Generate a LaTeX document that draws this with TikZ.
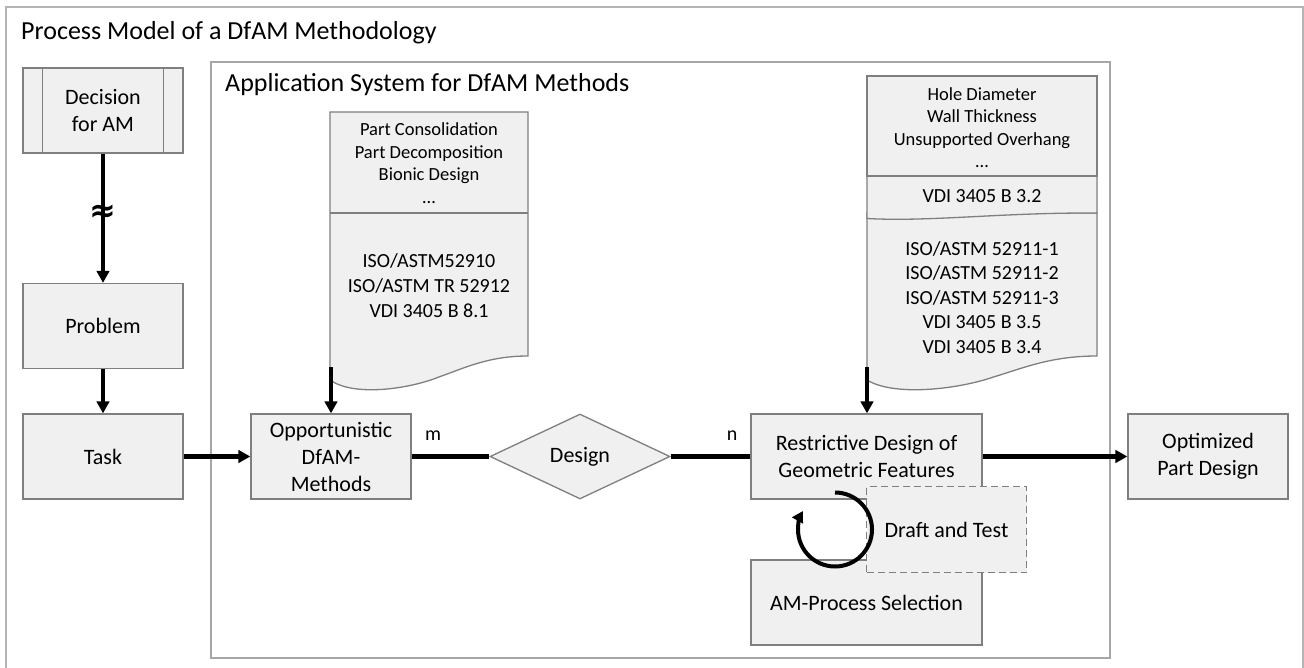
\documentclass[tikz,border=0pt]{standalone}
\usepackage{fontspec}
\setmainfont{Carlito}
\newfontfamily\symfont{DejaVu Sans}
\usetikzlibrary{shapes.geometric,arrows.meta}
\definecolor{boxfill}{HTML}{F0F0F0}
\definecolor{boxline}{HTML}{7F7F7F}
\definecolor{frameline}{HTML}{B4B4B4}
\definecolor{innerline}{HTML}{A6A6A6}
\begin{document}
\begin{tikzpicture}[x=1pt,y=-1pt,
  box/.style={draw=boxline,fill=boxfill,line width=1.3pt,minimum width=160pt,minimum height=85pt,inner sep=0pt,align=center,font=\fontsize{22}{27}\selectfont},
  docshape/.style={draw=boxline,fill=boxfill,line width=1.3pt},
  doctext/.style={align=center,inner sep=0pt,font=\fontsize{18.5}{22.5}\selectfont},
  stdtext/.style={align=center,inner sep=0pt,font=\fontsize{20}{25}\selectfont},
  conn/.style={line width=4.7pt},
  arr/.style={line width=4.7pt,-{Triangle[length=12pt,width=12.5pt]}},
  lbl/.style={inner sep=0pt,font=\fontsize{20}{24}\selectfont},
  ttl/.style={anchor=west,inner sep=0pt,font=\fontsize{26}{30}\selectfont}]
\useasboundingbox (0,0) rectangle (1304,668);
% frames
\draw[frameline,line width=1.5pt] (6,668) -- (6,7) -- (1303,7) -- (1303,668);
\draw[innerline,line width=1.3pt] (211,62) rectangle (1110,658);
\node[ttl] (title) at (21,33) {Process Model of a DfAM Methodology};
\node[ttl] (subtitle) at (225,85) {Application System for DfAM Methods};
% left column
\node[box] (dec) at (103,110.5) {Decision\\for AM};
\draw[boxline,line width=1.3pt] ([xshift=20pt]dec.north west) -- ([xshift=20pt]dec.south west)
  ([xshift=-20pt]dec.north east) -- ([xshift=-20pt]dec.south east);
\node[inner sep=0pt,minimum height=30pt,font=\symfont\bfseries\fontsize{32}{32}\selectfont] (apx) at (103,213) {≈};
\node[box] (prob) at (103,326) {Problem};
\node[box] (task) at (103,456.5) {Task};
\draw[conn] (dec.south) -- ([yshift=-15pt]apx.center);
\draw[arr] ([yshift=15pt]apx.center) -- (prob.north);
\draw[arr] (prob) -- (task);
% left document
\path[docshape] (330,112) -- (528,112) -- (528,356) .. controls (488.4,356) and (464.6,368) .. (438.9,377)
  .. controls (409.2,389) and (353.8,397) .. (330,380) -- cycle;
\draw[boxline,line width=1.3pt] (330,213) -- (528,213);
\node[doctext] (docAtop) at (429,163) {Part Consolidation\\Part Decomposition\\Bionic Design\\…};
\node[stdtext] (docAbot) at (429,286) {ISO/ASTM52910\\ISO/ASTM TR 52912\\VDI 3405 B 8.1};
% middle row
\node[box] (opp) at (331,456.5) {Opportunistic\\DfAM-\\Methods};
\draw[arr] (task) -- (opp);
\coordinate (docAout) at (331,367);
\draw[arr] (docAout) -- (docAout |- opp.north);
\node[diamond,draw=boxline,fill=boxfill,line width=1.3pt,minimum width=180pt,minimum height=85pt,inner sep=0pt,font=\fontsize{22}{27}\selectfont] (des) at (580,456.5) {Design};
\node[box,minimum width=231pt] (res) at (866.5,456.5) {Restrictive Design of\\Geometric Features};
\draw[conn] (opp) -- (des);
\draw[conn] (des) -- (res);
\node[lbl] (mlab) at (433,436) {m};
\node[lbl] (nlab) at (732,436) {n};
% right document
\path[docshape] (867,213) -- (1097,213) -- (1097,356) .. controls (1051,356) and (1023.4,368) .. (993.5,377)
  .. controls (959,389) and (894.6,397) .. (867,380) -- cycle;
\path[docshape] (867,176) -- (1097,176) -- (1097,213) .. controls (1000,212.5) and (930,222) .. (867,218.5) -- cycle;
\path[docshape] (867,76) rectangle (1097,176);
\node[doctext] (docBtop) at (982,127.5) {Hole Diameter\\Wall Thickness\\Unsupported Overhang\\…};
\node[stdtext] (docBmid) at (982,196) {VDI 3405 B 3.2};
\node[stdtext,font=\fontsize{20}{24.6}\selectfont] (docBbot) at (982,297.5) {ISO/ASTM 52911-1\\ISO/ASTM 52911-2\\ISO/ASTM 52911-3\\VDI 3405 B 3.5\\VDI 3405 B 3.4};
\coordinate (docBout) at (867,367);
\draw[arr] (docBout) -- (docBout |- res.north);
% right part
\node[box] (opt) at (1208,456.5) {Optimized\\Part Design};
\draw[arr] (res) -- (opt);
\node[box,minimum width=231pt] (am) at (866.5,602.5) {AM-Process Selection};
\node[draw=boxline,fill=boxfill,line width=1.3pt,dash pattern=on 7pt off 4pt,minimum width=160pt,minimum height=86pt,inner sep=0pt,font=\fontsize{22}{27}\selectfont] (draft) at (946.5,529.7) {Draft and Test};
\coordinate (cyc) at (835,529.5);
\draw[line width=4pt,-{Triangle[length=11pt,width=12pt]}] (cyc) ++(-90:37) arc[start angle=-90,end angle=210,radius=37];
\end{tikzpicture}
\end{document}
